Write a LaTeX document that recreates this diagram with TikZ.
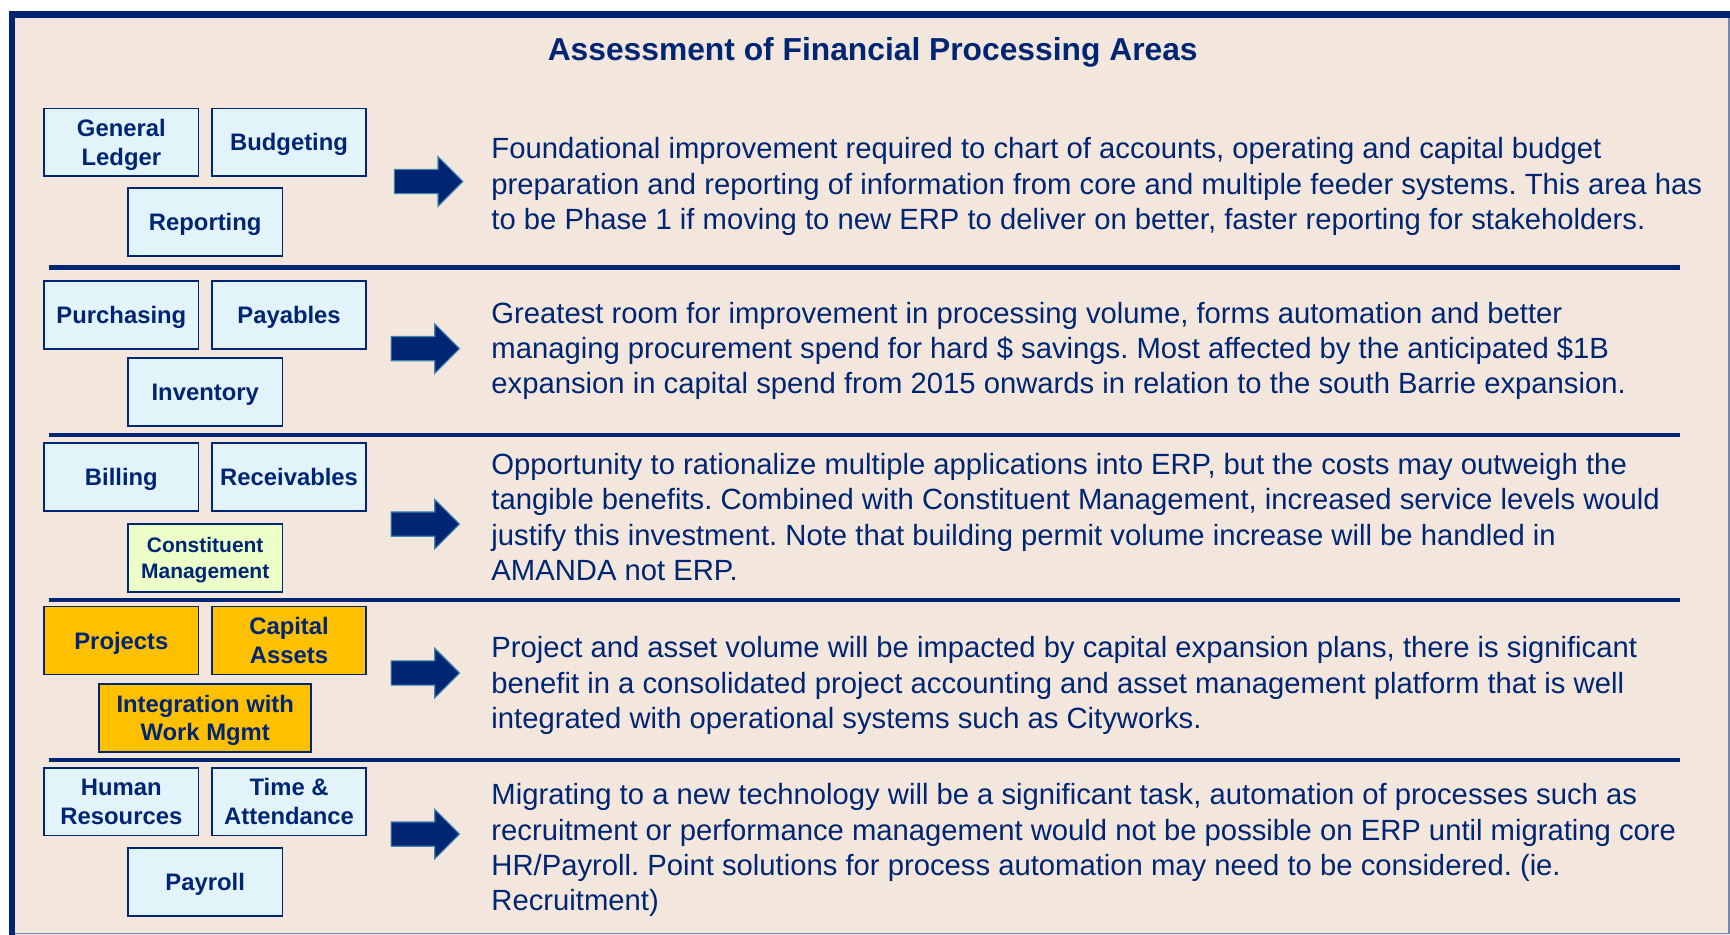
\documentclass[tikz,border=0pt]{standalone}
\usepackage{fontspec}
\setmainfont{Liberation Sans}
\usetikzlibrary{shapes.arrows}
\definecolor{navy}{RGB}{0,38,115}
\definecolor{beige}{RGB}{243,230,220}
\definecolor{paleblue}{RGB}{226,243,250}
\definecolor{paleyellow}{RGB}{236,255,200}
\definecolor{gold}{RGB}{255,192,0}
\definecolor{arrowrim}{RGB}{60,135,175}
\definecolor{rim}{RGB}{120,135,170}
\frenchspacing

\begin{document}
\begin{tikzpicture}[x=0.5pt,y=-0.5pt,
area/.style = {draw=navy, line width=0.8pt, fill=paleblue, text=navy, font=\fontsize{10.8}{13}\selectfont\bfseries, align=center, text depth=0pt, minimum width=70pt, minimum height=30.75pt, inner sep=0pt},
goldarea/.style = {area, fill=gold},
note/.style = {anchor=west, inner sep=0pt, text=navy, align=left, font=\fontsize{13.25}{16}\selectfont},
bigarrow/.style = {single arrow, draw=arrowrim, line width=0.5pt, fill=navy, inner xsep=0pt, inner ysep=5.25pt, single arrow head extend=5.75pt, single arrow tip angle=90, minimum height=31pt},
divider/.style = {navy, line width=2pt}]
\useasboundingbox (0,0) rectangle (1568,847);
\fill[white] (0,0) rectangle (1568,847);
\fill[beige] (11,13) rectangle (1568,847);
\draw[rim, line width=0.6pt] (1567,13) -- (1567,846) -- (11,846);
\draw[navy, line width=3pt] (11,847) -- (11,13) -- (1568,13);

\node[text=navy, font=\fontsize{14.4}{17}\selectfont\bfseries, anchor=base] (title) at (791,54.4) {Assessment of Financial Processing Areas};

\foreach \y in {242.5,394,544,689}
  \draw[divider] (44,\y) -- (1523,\y);

\node[area] (gl) at (110,129) {General\\Ledger};
\node[area] (budget) at (262,129) {Budgeting};
\node[area] (report) at (186,201) {Reporting};
\node[bigarrow] (arr1) at (383,164.5) {};
\node[note] (txt1) at (445,169) {Foundational improvement required to chart of accounts, operating and capital budget\\preparation and reporting of information from core and multiple feeder systems. This area has\\to be Phase 1 if moving to new ERP to deliver on better, faster reporting for stakeholders.};

\node[area] (purch) at (110,285.5) {Purchasing};
\node[area] (pay) at (262,285.5) {Payables};
\node[area] (inv) at (186,355.5) {Inventory};
\node[bigarrow] (arr2) at (380,316) {};
\node[note] (txt2) at (445,318) {Greatest room for improvement in processing volume, forms automation and better\\managing procurement spend for hard \$ savings. Most affected by the anticipated \$1B\\expansion in capital spend from 2015 onwards in relation to the south Barrie expansion.};

\node[area] (bill) at (110,432.5) {Billing};
\node[area] (recv) at (262,432.5) {Receivables};
\node[area, fill=paleyellow, font=\fontsize{9.5}{11.5}\selectfont\bfseries] (const) at (186,505.5) {Constituent\\Management};
\node[bigarrow] (arr3) at (380,475) {};
\node[note] (txt3) at (445,468.5) {Opportunity to rationalize multiple applications into ERP, but the costs may outweigh the\\tangible benefits. Combined with Constituent Management, increased service levels would\\justify this investment. Note that building permit volume increase will be handled in\\AMANDA not ERP.};

\node[goldarea] (proj) at (110,580.5) {Projects};
\node[goldarea] (capas) at (262,580.5) {Capital\\Assets};
\node[goldarea, minimum width=96pt] (integ) at (186,650.5) {Integration with\\Work Mgmt};
\node[bigarrow] (arr4) at (380,610) {};
\node[note] (txt4) at (445,621.5) {Project and asset volume will be impacted by capital expansion plans, there is significant\\benefit in a consolidated project accounting and asset management platform that is well\\integrated with operational systems such as Cityworks.};

\node[area] (hr) at (110,726.5) {Human\\Resources};
\node[area] (time) at (262,726.5) {Time \&\\Attendance};
\node[area] (payroll) at (186,799.5) {Payroll};
\node[bigarrow] (arr5) at (380,756) {};
\node[note] (txt5) at (445,770.5) {Migrating to a new technology will be a significant task, automation of processes such as\\recruitment or performance management would not be possible on ERP until migrating core\\HR/Payroll. Point solutions for process automation may need to be considered. (ie.\\Recruitment)};
\end{tikzpicture}
\end{document}
